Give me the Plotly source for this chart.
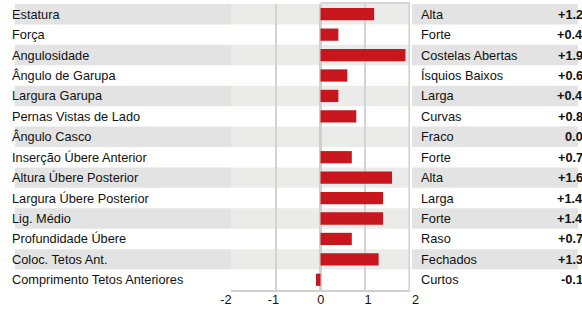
import plotly.graph_objects as go

traits = ["Estatura", "Força", "Angulosidade", "Ângulo de Garupa", "Largura Garupa",
          "Pernas Vistas de Lado", "Ângulo Casco", "Inserção Úbere Anterior",
          "Altura Úbere Posterior", "Largura Úbere Posterior", "Lig. Médio",
          "Profundidade Úbere", "Coloc. Tetos Ant.", "Comprimento Tetos Anteriores"]
values = [1.2, 0.4, 1.9, 0.6, 0.4, 0.8, 0.0, 0.7, 1.6, 1.4, 1.4, 0.7, 1.3, -0.1]
descriptors = ["Alta", "Forte", "Costelas Abertas", "Ísquios Baixos", "Larga", "Curvas",
               "Fraco", "Forte", "Alta", "Larga", "Forte", "Raso", "Fechados", "Curtos"]
value_labels = ["+1.2", "+0.4", "+1.9", "+0.6", "+0.4", "+0.8", "0.0", "+0.7", "+1.6",
                "+1.4", "+1.4", "+0.7", "+1.3", "-0.1"]
tick_vals = [-2, -1, 0, 1, 2]

W, H = 582, 309
px = lambda v: v / W
FONT = "Liberation Sans, Arial, sans-serif"
FS = 12.75

n = len(traits)
rows = list(range(n))

fig = go.Figure()
fig.add_trace(go.Bar(x=values, y=rows, orientation="h", width=0.6,
                     marker=dict(color="#c8161e", line=dict(width=0)),
                     hoverinfo="skip", showlegend=False))
# invisible trace on the tick-label axis so it is drawn
fig.add_trace(go.Scatter(x=[0], y=[0], xaxis="x2", mode="markers",
                         marker=dict(opacity=0), hoverinfo="skip", showlegend=False))

shapes = []
annotations = []
for i in rows:
    if i % 2 == 0:
        shapes.append(dict(type="rect", xref="paper", yref="y", x0=px(9), x1=px(229),
                           y0=i - 0.5, y1=i + 0.5, fillcolor="#e3e3e3", line_width=0, layer="below"))
        shapes.append(dict(type="rect", xref="paper", yref="y", x0=px(229), x1=px(411),
                           y0=i - 0.5, y1=i + 0.5, fillcolor="#ebebea", line_width=0, layer="below"))
        shapes.append(dict(type="rect", xref="paper", yref="y", x0=px(413), x1=1.0,
                           y0=i - 0.5, y1=i + 0.5, fillcolor="#e3e3e3", line_width=0, layer="below"))
    annotations.append(dict(x=px(4), y=i, xref="paper", yref="y", text=traits[i],
                            showarrow=False, xanchor="left", yanchor="middle",
                            font=dict(family=FONT, size=FS, color="#111")))
    annotations.append(dict(x=px(420), y=i, xref="paper", yref="y", text=descriptors[i],
                            showarrow=False, xanchor="left", yanchor="middle",
                            font=dict(family=FONT, size=FS, color="#111")))
    annotations.append(dict(x=px(589), y=i, xref="paper", yref="y", text="<b>" + value_labels[i] + "</b>",
                            showarrow=False, xanchor="right", yanchor="middle",
                            font=dict(family=FONT, size=FS, color="#111")))

# plot-area borders
shapes.append(dict(type="line", xref="x", yref="paper", x0=2, x1=2, y0=(H - 291) / H, y1=(H - 3) / H,
                   line=dict(color="#d2d2d2", width=3), layer="above"))
shapes.append(dict(type="line", xref="x", yref="paper", x0=0, x1=2, y0=(H - 3) / H, y1=(H - 3) / H,
                   line=dict(color="#d6d6d6", width=2), layer="below"))

fig.update_layout(
    width=W, height=H,
    margin=dict(l=0, r=0, t=0, b=0),
    paper_bgcolor="white",
    plot_bgcolor="rgba(0,0,0,0)",
    bargap=0.4,
    shapes=shapes,
    annotations=annotations,
    xaxis=dict(domain=[px(229), px(411)], range=[-2, 2], tickvals=tick_vals,
               showticklabels=False,
               showgrid=True, gridcolor="#d3d3d3", gridwidth=1.5,
               zeroline=True, zerolinecolor="#d0d0d0", zerolinewidth=2.5,
               showline=True, linecolor="#d0d0d0", linewidth=2,
               ticks="", fixedrange=True),
    xaxis2=dict(domain=[px(223.8), px(416.7)], range=[-2, 2], tickvals=tick_vals,
                ticktext=[str(v) for v in tick_vals], anchor="y", side="bottom",
                showgrid=False, zeroline=False, showline=False, ticks="",
                tickfont=dict(family=FONT, size=FS, color="#111"), fixedrange=True),
    yaxis=dict(domain=[(H - 290) / H, (H - 4) / H], range=[n - 0.5, -0.5],
               showticklabels=False, showgrid=False, zeroline=False, showline=False,
               tickvals=rows, fixedrange=True),
)

fig.write_html("out.html", config={"displayModeBar": False},
               post_script="document.body.style.margin='0';document.body.style.overflow='hidden';")
